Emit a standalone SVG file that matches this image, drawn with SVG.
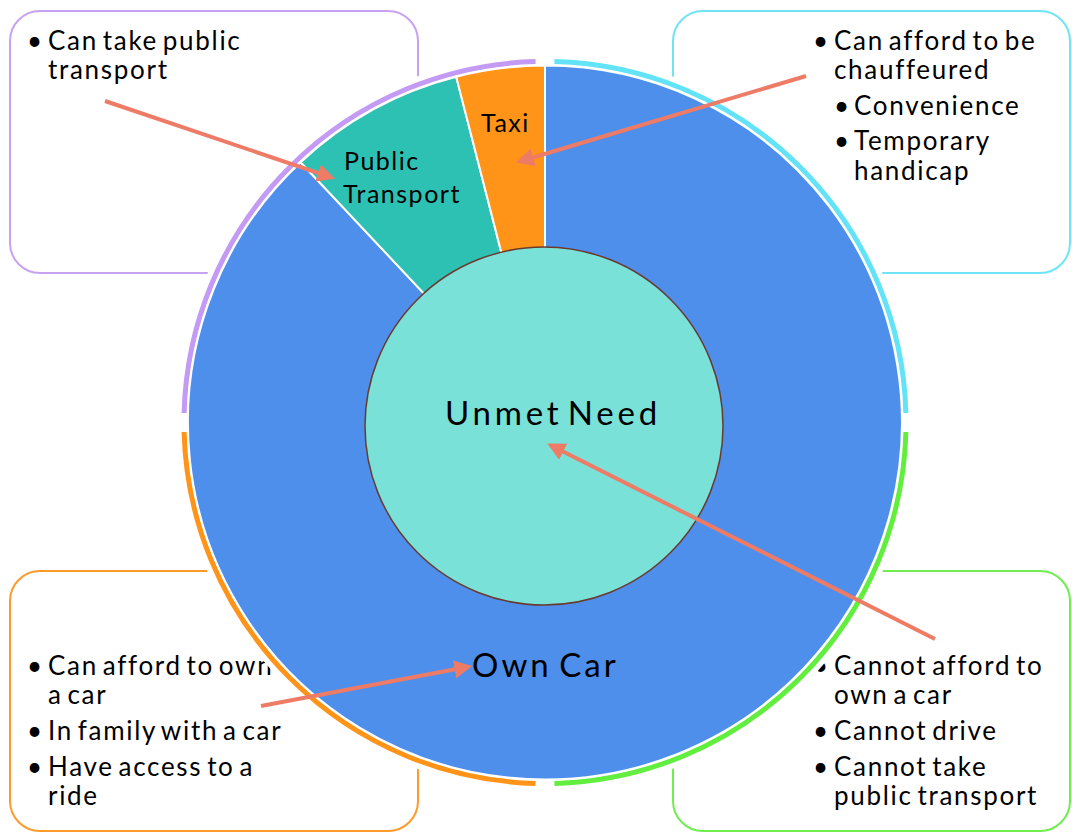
<svg xmlns="http://www.w3.org/2000/svg" width="1072" height="832" viewBox="0 0 1072 832">
<defs>
<style>
.box{fill:#fff;stroke-width:2}
.t{font-family:Lato,"Open Sans",sans-serif;font-size:26px;fill:#000;letter-spacing:1.7px;word-spacing:-3.5px}
.lbl{font-family:Lato,"Open Sans",sans-serif;fill:#000}
.ring{fill:none;stroke-width:5}
.slice{stroke:#fff;stroke-width:2}
.conn{stroke:#EE7B66;stroke-width:4;fill:none;marker-end:url(#ah)}
</style>
<marker id="ah" viewBox="0 0 10 10" refX="7" refY="5" markerWidth="4.5" markerHeight="4.5" orient="auto" markerUnits="strokeWidth">
<path d="M0,0 L10,5 L0,10 Z" fill="#EE7B66"/>
</marker>
</defs>
<rect width="1072" height="832" fill="#fff"/>

<g id="box-public">
<rect class="box" x="10" y="11" width="408" height="262" rx="30" stroke="#C8A2F2"/>
<text class="t" x="27" y="50">•</text>
<text class="t" x="48" y="50">Can take public</text>
<text class="t" x="48" y="79">transport</text>
</g>

<g id="box-taxi">
<rect class="box" x="673" y="11" width="397" height="262" rx="30" stroke="#6FE4F7"/>
<text class="t" x="813" y="50">•</text>
<text class="t" x="834" y="50">Can afford to be</text>
<text class="t" x="834" y="79">chauffeured</text>
<text class="t" x="834" y="115">•</text>
<text class="t" x="854" y="115">Convenience</text>
<text class="t" x="834" y="150">•</text>
<text class="t" x="854" y="150">Temporary</text>
<text class="t" x="854" y="180">handicap</text>
</g>

<g id="box-owncar">
<rect class="box" x="10" y="571" width="408" height="260" rx="30" stroke="#FF9A2A"/>
<text class="t" x="27" y="675">•</text>
<text class="t" x="48" y="675">Can afford to own</text>
<text class="t" x="48" y="704">a car</text>
<text class="t" x="27" y="740">•</text>
<text class="t" x="48" y="740">In family with a car</text>
<text class="t" x="27" y="776">•</text>
<text class="t" x="48" y="776">Have access to a</text>
<text class="t" x="48" y="805">ride</text>
</g>

<g id="box-unmet">
<rect class="box" x="673" y="571" width="397" height="260" rx="30" stroke="#6EED4F"/>
<text class="t" x="813" y="675">•</text>
<text class="t" x="834" y="675">Cannot afford to</text>
<text class="t" x="834" y="704">own a car</text>
<text class="t" x="813" y="740">•</text>
<text class="t" x="834" y="740">Cannot drive</text>
<text class="t" x="813" y="776">•</text>
<text class="t" x="834" y="776">Cannot take</text>
<text class="t" x="834" y="805">public transport</text>
</g>

<g id="pie">
<circle cx="545" cy="422.5" r="369" fill="#fff"/>
<path class="ring" stroke="#C39BF5" d="M535.55,61.6 A361,361 0 0,0 184.1,413.05"/>
<path class="ring" stroke="#62E3F8" d="M554.45,61.6 A361,361 0 0,1 905.9,413.05"/>
<path class="ring" stroke="#62EE3E" d="M905.9,431.95 A361,361 0 0,1 554.45,783.4"/>
<path class="ring" stroke="#FF9418" d="M184.1,431.95 A361,361 0 0,0 535.55,783.4"/>
<path id="slice-own" class="slice" fill="#4F8FEC" d="M545,422.5 L545,65.5 A357,357 0 1,1 300.6,162.2 Z"/>
<path id="slice-public" class="slice" fill="#2DC1B4" d="M545,422.5 L300.6,162.2 A357,357 0 0,1 456.2,76.7 Z"/>
<path id="slice-taxi" class="slice" fill="#FF9418" d="M545,422.5 L456.2,76.7 A357,357 0 0,1 545,65.5 Z"/>
<text class="lbl" x="481" y="132" font-size="25" letter-spacing="1.5">Taxi</text>
<text class="lbl" x="344" y="170" font-size="25" letter-spacing="1.5">Public</text>
<text class="lbl" x="343" y="203" font-size="25" letter-spacing="1.5">Transport</text>
<text class="lbl" x="472" y="677" font-size="33" letter-spacing="3" word-spacing="-4">Own Car</text>
</g>

<g id="unmet-need">
<circle cx="544" cy="426" r="179" fill="#79E1D7" stroke="#6B3A2E" stroke-width="1.5"/>
<text class="lbl" x="445" y="425" font-size="33" letter-spacing="3.8" word-spacing="-7">Unmet Need</text>
</g>

<g id="connectors">
<line class="conn" x1="105" y1="101" x2="330" y2="177"/>
<line class="conn" x1="806" y1="76" x2="521" y2="161"/>
<line class="conn" x1="935" y1="639" x2="552" y2="446"/>
<line class="conn" x1="261" y1="706" x2="467" y2="667"/>
</g>
</svg>
